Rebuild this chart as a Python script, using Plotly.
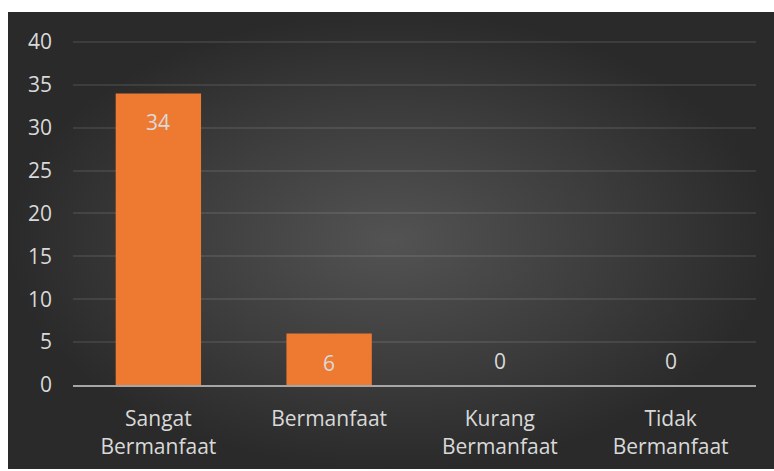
import plotly.graph_objects as go

categories = ["Sangat<br>Bermanfaat", "Bermanfaat", "Kurang<br>Bermanfaat", "Tidak<br>Bermanfaat"]
values = [34, 6, 0, 0]
y_ticks = [0, 5, 10, 15, 20, 25, 30, 35, 40]

W, H = 774, 471
FONT = "Open Sans"
TXT = "#d9d9d9"

# plot area in pixels (from top-left)
PL, PR, PT, PB = 73, 756, 42, 385
Y_MAX = 40
EXTRA = 0.3  # small headroom so the 40 gridline is drawn
px_per_unit = (PB - PT) / Y_MAX
top_px = PT - EXTRA * px_per_unit

fig = go.Figure()

# background panel (radial gradient) on a full-paper helper axis pair
fig.add_trace(go.Scatter(
    x=[8, W, W, 8, 8], y=[2, 2, H - 12, H - 12, 2],
    mode="lines", fill="toself", line=dict(width=0),
    fillgradient=dict(type="radial", colorscale=[[0, "#535353"], [0.6, "#3b3b3b"], [1, "#2a2a2a"]]),
    hoverinfo="skip", showlegend=False, xaxis="x", yaxis="y",
))

fig.add_trace(go.Bar(
    x=categories, y=values, width=0.5,
    marker=dict(color="#ee7a32", line=dict(width=0)),
    hoverinfo="skip", showlegend=False, xaxis="x2", yaxis="y2",
))

for c, v in zip(categories, values):
    fig.add_annotation(x=c, y=v, xref="x2", yref="y2", text=str(v), showarrow=False,
                       yanchor="middle", yshift=(-29 if v > 0 else 24),
                       font=dict(family=FONT, size=21, color=TXT))

fig.update_layout(
    width=W, height=H,
    margin=dict(l=0, r=0, t=0, b=0, autoexpand=False),
    paper_bgcolor="white", plot_bgcolor="rgba(0,0,0,0)",
    showlegend=False,
    xaxis=dict(domain=[0, 1], range=[0, W], visible=False, fixedrange=True),
    yaxis=dict(domain=[0, 1], range=[0, H], visible=False, fixedrange=True),
    xaxis2=dict(domain=[PL / W, PR / W], anchor="y2", showgrid=False, automargin=False,
                showline=True, linecolor="#a6a6a6", linewidth=2, ticks="",
                tickfont=dict(family=FONT, size=21, color=TXT), ticklabelstandoff=14),
    yaxis2=dict(domain=[(H - PB) / H, (H - top_px) / H], anchor="x2", range=[0, Y_MAX + EXTRA],
                tickvals=y_ticks,
                showgrid=True, gridcolor="rgba(255,255,255,0.09)", gridwidth=2, automargin=False,
                zeroline=False, showline=False, ticks="",
                tickfont=dict(family=FONT, size=21, color=TXT), ticklabelstandoff=20),
)

fig.write_html("out.html", config={"displayModeBar": False},
               post_script="document.body.style.margin='0';document.body.style.overflow='hidden';")
